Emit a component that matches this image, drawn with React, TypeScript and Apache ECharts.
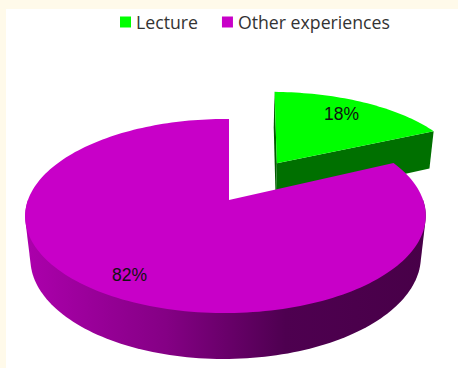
import React, { useEffect, useRef } from "react";
import * as echarts from "echarts";

const categories = ["Lecture", "Other experiences"];
const shares = [18, 82];
const topColors = ["#00FF00", "#C800C8"];

// Tilted-camera projection of the pie plane: u runs right, v towards the viewer.
const CENTER_X = 229;
const CENTER_Y = 200;
const SCALE_X = 197.5;
const SCALE_Y = 94.4;
const PERSP_V = -0.165;
const PERSP_U = 0.0175;
const DEPTH_W = 0.025;
const DEPTH_Y = 42.3;
// Plane offset of each slice's apex, in pie radii.
const OFFSET_U = [0.26, 0];
const OFFSET_V = [-0.419, 0];
// Extra horizontal stretch and lean of a slice around its apex, in pixels per radius.
const STRETCH = [5, 0];
const LEAN = [4.1, 0];
const LABEL_RADIUS = [0.78, 0.825];

type Pt = [number, number];

function project(u: number, v: number, lowered: boolean): Pt {
  const w = 1 + PERSP_V * v + PERSP_U * u + (lowered ? DEPTH_W : 0);
  return [
    CENTER_X + (SCALE_X * u) / w,
    CENTER_Y + (SCALE_Y * v + (lowered ? DEPTH_Y : 0)) / w,
  ];
}

// A rim point of slice `index` at the given clockwise angle from twelve o'clock.
function rimPoint(index: number, a: number, lowered: boolean): Pt {
  const su = Math.sin(a);
  const sv = -Math.cos(a);
  const [x, y] = project(OFFSET_U[index] + su, OFFSET_V[index] + sv, lowered);
  return [x + STRETCH[index] * su - LEAN[index] * sv, y];
}

function arcPoints(index: number, from: number, to: number, lowered: boolean): Pt[] {
  const steps = Math.max(2, Math.ceil((Math.abs(to - from) / Math.PI) * 120));
  const pts: Pt[] = [];
  for (let i = 0; i <= steps; i++) {
    pts.push(rimPoint(index, from + ((to - from) * i) / steps, lowered));
  }
  return pts;
}

// Monotone-chain convex hull, used for the silhouette of the pie's side.
function convexHull(points: Pt[]): Pt[] {
  const sorted = [...points].sort((a, b) => a[0] - b[0] || a[1] - b[1]);
  const cross = (o: Pt, a: Pt, b: Pt) =>
    (a[0] - o[0]) * (b[1] - o[1]) - (a[1] - o[1]) * (b[0] - o[0]);
  const chain = (list: Pt[]) => {
    const out: Pt[] = [];
    for (const p of list) {
      while (out.length >= 2 && cross(out[out.length - 2], out[out.length - 1], p) <= 0) {
        out.pop();
      }
      out.push(p);
    }
    out.pop();
    return out;
  };
  return [...chain(sorted), ...chain([...sorted].reverse())];
}

function sliceRenderer(index: number) {
  return (_params: unknown, api: any) => {
    const total = shares.reduce((s, x) => s + x, 0);
    const before = shares.slice(0, index).reduce((s, x) => s + x, 0);
    const value = api.value(0) as number;
    const start = (before / total) * Math.PI * 2;
    const end = ((before + value) / total) * Math.PI * 2;
    const mid = (start + end) / 2;
    const ou = OFFSET_U[index];
    const ov = OFFSET_V[index];
    const apexTop = project(ou, ov, false);
    const apexLow = project(ou, ov, true);
    const children: any[] = [];

    if (index === 0) {
      // Cut faces of the pulled-out wedge.
      children.push({
        type: "polygon",
        shape: {
          points: [apexTop, rimPoint(index, start, false), rimPoint(index, start, true), apexLow],
        },
        style: { fill: "#005a00" },
      });
      children.push({
        type: "polygon",
        shape: {
          points: [apexTop, rimPoint(index, end, false), rimPoint(index, end, true), apexLow],
        },
        style: { fill: "#007000" },
      });
    } else {
      // Outer wall: the hull of the front half of both rims, left under the top face.
      const from = Math.PI * 0.5;
      const to = Math.PI * 1.5;
      const wall = convexHull([
        ...arcPoints(index, from, to, false),
        ...arcPoints(index, from, to, true),
      ]);
      children.push({
        type: "polygon",
        shape: { points: wall },
        style: {
          fill: {
            type: "linear",
            x: 0,
            y: 0,
            x2: 1,
            y2: 0,
            colorStops: [
              { offset: 0, color: "#AC00AC" },
              { offset: 0.35, color: "#850085" },
              { offset: 0.65, color: "#4E0050" },
              { offset: 1, color: "#480048" },
            ],
          },
        },
      });
    }

    children.push({
      type: "polygon",
      shape: { points: [apexTop, ...arcPoints(index, start, end, false)] },
      style: { fill: topColors[index] },
    });

    const r = LABEL_RADIUS[index];
    const [lx, ly] = project(ou + r * Math.sin(mid), ov - r * Math.cos(mid), false);
    children.push({
      type: "text",
      x: lx,
      y: ly,
      style: {
        text: `${value}%`,
        fill: "#111111",
        font: '17.5px "Liberation Sans", sans-serif',
        align: "center",
        verticalAlign: "middle",
      },
    });
    return { type: "group", children };
  };
}

export default function App() {
  const ref = useRef<HTMLDivElement>(null);

  useEffect(() => {
    const chart = echarts.init(ref.current!, undefined, { renderer: "svg" });
    chart.setOption({
      animation: false,
      backgroundColor: "#FFFAEA",
      graphic: [
        {
          type: "rect",
          z: -1,
          shape: { x: 6, y: 9, width: 452, height: 359 },
          style: { fill: "#FFFFFF" },
        },
      ],
      legend: {
        left: 115,
        top: 8,
        icon: "rect",
        itemWidth: 11,
        itemHeight: 11,
        itemGap: 24,
        data: categories,
        textStyle: {
          color: "#333333",
          fontSize: 17.7,
          fontFamily: '"Open Sans", sans-serif',
          padding: [0, 0, 0, 0],
        },
      },
      series: categories.map((name, i) => ({
        type: "custom",
        name,
        coordinateSystem: "none",
        renderItem: sliceRenderer(i),
        itemStyle: { color: topColors[i] },
        data: [[shares[i]]],
        silent: true,
      })),
    });
    return () => chart.dispose();
  }, []);

  return (
    <div
      ref={ref}
      style={{ position: "absolute", left: 0, top: 0, width: 458, height: 368 }}
    />
  );
}
